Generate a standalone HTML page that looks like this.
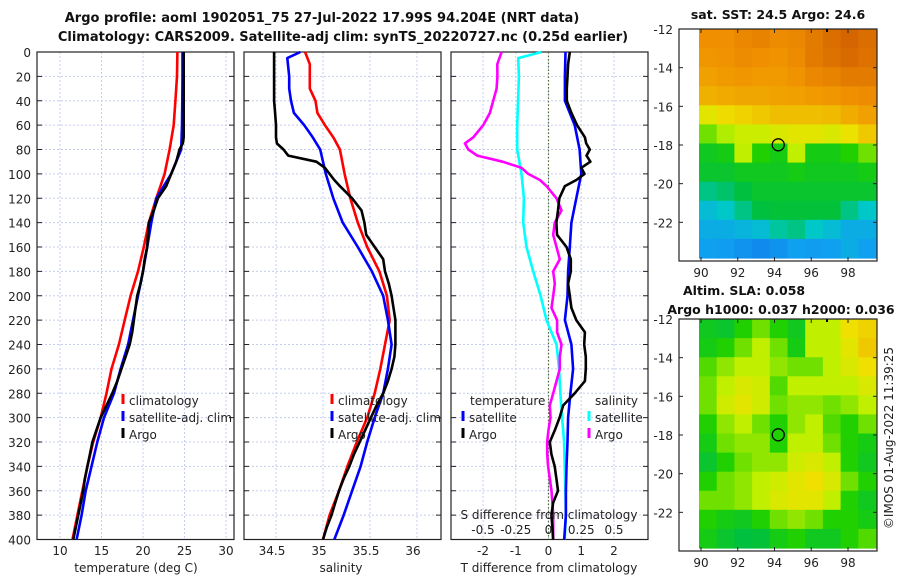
<!DOCTYPE html>
<html><head><meta charset="utf-8"><style>
body{margin:0;background:#fff;width:900px;height:580px;overflow:hidden}
svg{font-family:"DejaVu Sans","Liberation Sans",sans-serif}
.t{font-size:12px;fill:#222}
.b{font-size:12.5px;font-weight:bold;fill:#111}
.bt{font-size:13px;font-weight:bold;fill:#111}
</style></head><body>
<svg id="c" width="900" height="580">
<text class="bt" x="322" y="22" text-anchor="middle">Argo profile: aoml 1902051_75 27-Jul-2022 17.99S 94.204E (NRT data)</text>
<text class="bt" x="343" y="41" text-anchor="middle">Climatology: CARS2009. Satellite-adj clim: synTS_20220727.nc (0.25d earlier)</text>
<g id="g"></g>
</svg>
<script>
const climDepth=[0,20,40,60,80,100,120,140,160,180,200,220,240,260,280,300,320,340,360,380,400];
const climT=[24.15,24.1,23.9,23.7,23.2,22.6,21.6,20.7,20.1,19.4,18.5,17.8,17.1,16.2,15.6,14.9,14.0,13.3,12.7,12.1,11.5];
const satT=[24.76,24.76,24.74,24.7,24.6,23.4,21.6,21.0,20.5,20.0,19.4,18.8,18.2,17.3,16.5,15.3,14.5,13.8,13.1,12.6,12.0];
const climSDepth=[0,10,20,30,40,50,60,70,80,100,120,140,160,180,200,220,240,260,280,300,320,340,360,380,400];
const climS=[34.81,34.86,34.86,34.86,34.92,34.94,35.02,35.11,35.18,35.23,35.29,35.37,35.47,35.6,35.68,35.71,35.66,35.61,35.55,35.47,35.36,35.26,35.17,35.07,35.0];
const satSDepth=[0,5,20,30,40,50,60,70,80,90,100,110,120,140,160,180,200,220,240,260,280,300,320,340,360,380,400];
const satS=[34.76,34.62,34.64,34.64,34.66,34.69,34.8,34.89,34.97,35.0,35.03,35.07,35.11,35.21,35.37,35.52,35.64,35.69,35.73,35.69,35.64,35.55,35.47,35.40,35.31,35.22,35.12];
const argoDepth=[0,10,20,30,40,50,60,70,75,80,85,90,95,100,105,110,120,130,140,150,160,170,180,190,200,210,220,230,240,250,260,270,280,290,300,310,320,330,340,350,360,370,380,390,400];
const argoT=[24.9,24.9,24.9,24.9,24.9,24.9,24.9,24.9,24.8,24.4,24.2,24.0,23.7,23.4,23.1,22.8,21.8,21.3,20.7,20.6,20.5,20.2,20.0,19.7,19.3,19.1,18.9,18.7,18.4,17.9,17.4,16.9,16.3,15.6,14.9,14.4,13.9,13.6,13.3,13.0,12.8,12.5,12.2,11.9,11.6];
const argoS=[34.48,34.48,34.48,34.48,34.48,34.49,34.5,34.5,34.51,34.58,34.63,34.93,35.02,35.07,35.12,35.18,35.31,35.41,35.44,35.46,35.55,35.64,35.66,35.70,35.73,35.75,35.77,35.77,35.77,35.76,35.73,35.69,35.64,35.57,35.51,35.45,35.39,35.33,35.28,35.22,35.17,35.13,35.09,35.04,35.0];
const satDT=[0.52,0.5,0.5,0.8,0.95,1.0,0.85,0.7,0.65,0.6,0.58,0.5,0.7,0.75,0.67,0.6,0.58,0.55,0.53,0.53,0.48];
const satDSDepth=[0,5,20,60,80,100,120,140,160,180,200,220,240,260,280,300,320,340,360,380,400];
const satDS=[-0.053,-0.231,-0.226,-0.239,-0.239,-0.206,-0.188,-0.193,-0.168,-0.117,-0.06,-0.015,0.061,0.081,0.091,0.104,0.119,0.124,0.129,0.132,0.124];
const argoDT=[0.65,0.6,0.58,0.56,0.56,0.7,0.87,1.11,1.15,1.26,1.16,1.28,1.0,1.1,0.85,0.5,0.33,0.29,0.24,0.26,0.55,0.68,0.68,0.6,0.65,0.7,0.85,1.11,1.09,1.14,1.14,1.11,0.8,0.45,0.34,0.2,0.04,0.09,0.19,0.24,0.29,0.14,0.09,0.12,0.14];
const argoDS=[-0.358,-0.391,-0.39,-0.396,-0.422,-0.447,-0.498,-0.574,-0.638,-0.612,-0.544,-0.35,-0.206,-0.155,-0.066,-0.015,0.061,0.099,0.048,0.036,0.061,0.086,0.036,0.048,0.036,0.023,0.066,0.066,0.099,0.086,0.086,0.061,0.036,0.010,0.015,0.0,-0.010,-0.010,-0.003,0.01,0.023,0.03,0.036,0.036,0.036];
const depthTicks=[0,20,40,60,80,100,120,140,160,180,200,220,240,260,280,300,320,340,360,380,400];
const tTicks=[10,15,20,25,30], sTicks=[34.5,35,35.5,36], dTTicks=[-2,-1,0,1,2], dSTicks=[-0.5,-0.25,0,0.25,0.5];
const dSLabels=["-0.5","-0.25","0","0.25","0.5"];
const sstGrid=[
[.85,.85,.87,.88,.86,.87,.9,.93,.95,.93],[.83,.84,.86,.85,.84,.86,.9,.92,.94,.92],
[.8,.82,.83,.82,.82,.84,.87,.88,.9,.9],[.75,.77,.78,.78,.79,.8,.82,.83,.85,.86],
[.62,.66,.68,.7,.72,.72,.72,.73,.76,.8],[.5,.54,.57,.57,.6,.62,.62,.6,.64,.7],
[.4,.42,.55,.45,.42,.55,.42,.42,.45,.5],[.38,.38,.4,.4,.4,.42,.4,.4,.4,.42],
[.3,.32,.35,.38,.38,.38,.38,.38,.38,.38],[.22,.25,.3,.35,.36,.36,.36,.36,.3,.25],
[.18,.18,.2,.22,.28,.3,.25,.22,.18,.18],[.15,.14,.12,.1,.12,.15,.14,.15,.18,.15]];
const slaGrid=[
[.4,.38,.45,.5,.45,.4,.55,.55,.65,.68],[.42,.45,.5,.55,.5,.42,.55,.55,.62,.7],
[.48,.52,.55,.55,.52,.5,.5,.55,.6,.65],[.5,.55,.6,.58,.48,.55,.55,.55,.55,.6],
[.5,.58,.62,.58,.5,.52,.52,.5,.52,.55],[.45,.52,.55,.5,.45,.52,.55,.48,.45,.5],
[.42,.5,.52,.52,.45,.55,.55,.5,.45,.42],[.38,.45,.5,.52,.52,.58,.6,.55,.45,.4],
[.45,.5,.52,.55,.58,.62,.65,.6,.5,.45],[.5,.5,.52,.55,.6,.62,.62,.55,.45,.4],
[.45,.42,.4,.45,.5,.52,.5,.45,.45,.42],[.42,.38,.35,.36,.42,.45,.4,.4,.45,.48]];
const lonTicks=[90,92,94,96,98], latTicks=[-12,-14,-16,-18,-20,-22];
const argoLon=94.204, argoLat=-17.99;

const NS='http://www.w3.org/2000/svg', G=document.getElementById('g');
function mk(tag,at,name,parent){const e=document.createElementNS(NS,tag);for(const k in at)e.setAttribute(k,at[k]);


(parent||G).appendChild(e);return e;}
function txt(x,y,s,cls,anchor,name,extra){const e=mk('text',Object.assign({x:x,y:y,class:cls,'text-anchor':anchor||'middle'},extra||{}),name);e.textContent=s;return e;}
const Y0=52,Y1=539.5;
function yD(d){return Y0+d*(Y1-Y0)/400;}
function scale(x0,x1,v0,v1){return v=>x0+(v-v0)*(x1-x0)/(v1-v0);}
const P1={x0:37,x1:234,f:scale(60,226,10,30)};
const P2={x0:244,x1:441,f:scale(276,417,34.5,36)};
const P3={x0:451,x1:648,f:scale(483,614,-2,2)};
const fS=scale(483,614,-0.5,0.5);
function frame(P,ticks,vf,labelLeft,name){
 ticks.forEach(t=>{const x=vf(t);mk('line',{x1:x,x2:x,y1:Y0,y2:Y1,stroke:'#c5cdee','stroke-dasharray':'2,2','stroke-width':1},name+'-vgrid');});
 depthTicks.forEach(d=>{const y=yD(d);
  if(d>0&&d<400)mk('line',{x1:P.x0,x2:P.x1,y1:y,y2:y,stroke:'#c5cdee','stroke-dasharray':'2,2'},name+'-hgrid');
  mk('line',{x1:P.x0,x2:P.x0+5,y1:y,y2:y,stroke:'#222'},name+'-ytick');
  mk('line',{x1:P.x1-5,x2:P.x1,y1:y,y2:y,stroke:'#222'},name+'-ytick');
  if(labelLeft)txt(31,y+5,String(d),'t','end','depth-tick-label');});
 mk('rect',{x:P.x0,y:Y0,width:P.x1-P.x0,height:Y1-Y0,fill:'none',stroke:'#222','stroke-width':1.2},name+'-frame');
}
function line(depths,vals,f,color,name,w){
 const pts=depths.map((d,i)=>f(vals[i]).toFixed(1)+','+yD(d).toFixed(1)).join(' ');
 mk('polyline',{points:pts,fill:'none',stroke:color,'stroke-width':w||2.6,'stroke-linejoin':'round'},name);
}
frame(P1,tTicks,P1.f,true,'temperature-panel');
line(climDepth,climT,P1.f,'#f00','climatology-temperature-line');
line(climDepth,satT,P1.f,'#00f','satellite-temperature-line');
line(argoDepth,argoT,P1.f,'#000','argo-temperature-line');
tTicks.forEach(t=>txt(P1.f(t),555,String(t),'t','middle','temperature-tick-label'));
txt(136,572,'temperature (deg C)','t','middle','temperature-axis-title');
frame(P2,sTicks,P2.f,false,'salinity-panel');
line(climSDepth,climS,P2.f,'#f00','climatology-salinity-line');
line(satSDepth,satS,P2.f,'#00f','satellite-salinity-line');
line(argoDepth,argoS,P2.f,'#000','argo-salinity-line');
sTicks.forEach(t=>txt(P2.f(t)-4,555,String(t),'t','middle','salinity-tick-label'));
txt(341,572,'salinity','t','middle','salinity-axis-title');
frame(P3,dTTicks,P3.f,false,'difference-panel');
mk('line',{x1:P3.f(0),x2:P3.f(0),y1:Y0,y2:Y1,stroke:'#556b2f','stroke-dasharray':'1.5,2','stroke-width':1.2},'zero-line');
line(satDSDepth,satDS,fS,'#00ffff','satellite-salinity-difference-line');
line(argoDepth,argoDS,fS,'#ff00ff','argo-salinity-difference-line');
line(climDepth,satDT,P3.f,'#00f','satellite-temperature-difference-line');
line(argoDepth,argoDT,P3.f,'#000','argo-temperature-difference-line');
dTTicks.forEach(t=>txt(P3.f(t),555,String(t),'t','middle','t-difference-tick-label'));
txt(549,572,'T difference from climatology','t','middle','t-difference-axis-title');
txt(549,519,'S difference from climatology','t','middle','s-difference-axis-title');
dSTicks.forEach((t,i)=>txt(fS(t),534,dSLabels[i],'t','middle','s-difference-tick-label'));
function leg(mx,y,color,label,name){mk('line',{x1:mx,x2:mx,y1:y-11,y2:y-1,stroke:color,'stroke-width':3},name+'-marker');txt(mx+6,y,label,'t','start',name);}
leg(123,405,'#f00','climatology','legend-climatology');
leg(123,422,'#00f','satellite-adj. clim','legend-satellite-adj');
leg(123,439,'#000','Argo','legend-argo');
leg(332,405,'#f00','climatology','legend-climatology-2');
leg(332,422,'#00f','satellite-adj. clim','legend-satellite-adj-2');
leg(332,439,'#000','Argo','legend-argo-2');
txt(470,405,'temperature','t','start','legend-temperature-heading');
leg(463,422,'#00f','satellite','legend-temperature-satellite');
leg(463,439,'#000','Argo','legend-temperature-argo');
txt(595,405,'salinity','t','start','legend-salinity-heading');
leg(589,422,'#00ffff','satellite','legend-salinity-satellite');
leg(589,439,'#ff00ff','Argo','legend-salinity-argo');
const stops=[[0,[16,96,232]],[.15,[16,160,240]],[.25,[0,200,200]],[.35,[0,192,64]],[.45,[32,208,0]],[.55,[192,240,0]],[.65,[240,224,0]],[.75,[240,176,0]],[.85,[240,144,0]],[1,[200,80,0]]];
function cmap(v){for(let i=1;i<stops.length;i++){if(v<=stops[i][0]){const a=stops[i-1],b=stops[i],t=(v-a[0])/(b[0]-a[0]);return 'rgb('+a[1].map((c,k)=>Math.round(c+(b[1][k]-c)*t)).join(',')+')';}}return 'rgb(200,80,0)';}
const lonF=scale(701,848,90,98);
function drawMap(top,grid,name){
 const latF=scale(top,top+116,-12,-18), bot=top+232;
 const x0=699,x1=876,rows=grid.length,cols=grid[0].length,cw=(x1-x0)/cols,rh=(bot-3-top)/rows;
 grid.forEach((row,r)=>row.forEach((v,c)=>{mk('rect',{x:(x0+c*cw).toFixed(1),y:(top+r*rh).toFixed(1),width:(cw+0.6).toFixed(1),height:(rh+0.6).toFixed(1),fill:cmap(v)},name+'-cell');}));
 mk('rect',{x:679,y:top,width:198,height:232,fill:'none',stroke:'#222','stroke-width':1.2},name+'-frame');
 lonTicks.forEach(l=>{const x=lonF(l);mk('line',{x1:x,x2:x,y1:bot,y2:bot-4,stroke:'#222'},name+'-xtick');mk('line',{x1:x,x2:x,y1:top,y2:top+4,stroke:'#222'},name+'-xtick');txt(x,bot+16,String(l),'t','middle',name+'-lon-label');});
 latTicks.forEach(l=>{const y=latF(l);mk('line',{x1:679,x2:683,y1:y,y2:y,stroke:'#222'},name+'-ytick');mk('line',{x1:873,x2:877,y1:y,y2:y,stroke:'#222'},name+'-ytick');txt(673,y+5,String(l),'t','end',name+'-lat-label');});
 mk('circle',{cx:lonF(argoLon),cy:latF(argoLat),r:6,fill:'none',stroke:'#000','stroke-width':1.3},name+'-argo-location');
 mk('rect',{x:826,y:top,width:2,height:3,fill:'#000'},name+'-marker');
}
drawMap(29,sstGrid,'sst-map');
drawMap(319,slaGrid,'sla-map');
txt(778,19,'sat. SST: 24.5 Argo: 24.6','b','middle','sst-map-title');
txt(683,295,'Altim. SLA: 0.058','b','start','sla-map-title');
txt(781,314,'Argo h1000: 0.037 h2000: 0.036','b','middle','sla-map-subtitle');
txt(893,438,'©IMOS 01-Aug-2022 11:39:25','t','middle','timestamp-credit',{transform:'rotate(-90 893 438)'});
</script>
</body></html>
